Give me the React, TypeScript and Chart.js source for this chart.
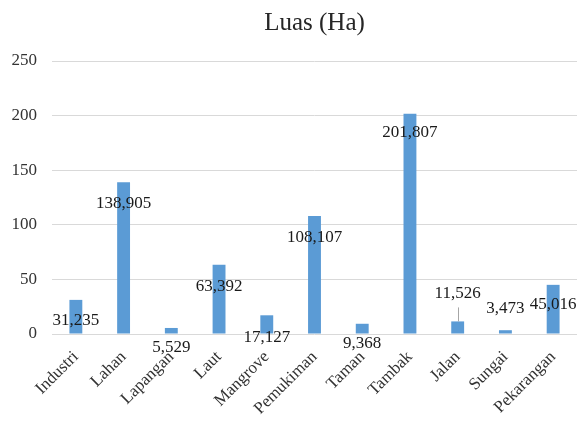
import React, { useEffect, useRef } from "react";
import { Chart, registerables } from "chart.js";

Chart.register(...registerables);

const categories = [
  "Industri", "Lahan", "Lapangan", "Laut", "Mangrove", "Pemukiman",
  "Taman", "Tambak", "Jalan", "Sungai", "Pekarangan",
];
const luasValues = [31.235, 138.905, 5.529, 63.392, 17.127, 108.107, 9.368, 201.807, 11.526, 3.473, 45.016];
const valueLabels = ["31,235", "138,905", "5,529", "63,392", "17,127", "108,107", "9,368", "201,807", "11,526", "3,473", "45,016"];
const chartTitle = "Luas (Ha)";
const yMax = 250;
const yStep = 50;

// label vertical offsets (px) relative to bar top; negative = above
const labelOffsets = [21, 21, 20, 22, 22, 22, 20, 19, -28, -22, 20];
const leaderLineIndex = 8;

const SERIF = "'Liberation Serif', 'Times New Roman', serif";

const labelPlugin = {
  id: "valueLabels",
  afterDatasetsDraw(chart: any) {
    const ctx = chart.ctx;
    const meta = chart.getDatasetMeta(0);
    ctx.save();
    ctx.font = `17px ${SERIF}`;
    ctx.fillStyle = "#1a1a1a";
    ctx.textAlign = "center";
    ctx.textBaseline = "middle";
    meta.data.forEach((bar: any, i: number) => {
      const x = bar.x;
      const y = bar.y + labelOffsets[i];
      ctx.fillText(valueLabels[i], x, y);
      if (i === leaderLineIndex) {
        ctx.strokeStyle = "#a6a6a6";
        ctx.lineWidth = 1;
        ctx.beginPath();
        ctx.moveTo(Math.round(x) + 0.5, y + 14);
        ctx.lineTo(Math.round(x) + 0.5, bar.y);
        ctx.stroke();
      }
    });
    // title
    const area = chart.chartArea;
    ctx.font = `25px ${SERIF}`;
    ctx.fillStyle = "#262626";
    ctx.fillText(chartTitle, (area.left + area.right) / 2, 23);
    ctx.restore();
  },
};

export default function App() {
  const ref = useRef<HTMLCanvasElement | null>(null);
  useEffect(() => {
    document.body.style.margin = "0";
    if (!ref.current) return;
    const chart = new Chart(ref.current, {
      type: "bar",
      data: {
        labels: categories,
        datasets: [
          {
            label: chartTitle,
            data: luasValues,
            backgroundColor: "#5b9bd5",
            barPercentage: 0.27,
            categoryPercentage: 1,
          },
        ],
      },
      options: {
        responsive: false,
        animation: false,
        devicePixelRatio: 1,
        layout: { padding: { top: 61, right: 0, left: 0, bottom: 0 } },
        plugins: {
          legend: { display: false },
          title: { display: false },
          tooltip: { enabled: false },
        },
        scales: {
          x: {
            grid: { display: false },
            border: { display: false },
            ticks: {
              font: { family: SERIF, size: 17 },
              color: "#333333",
              minRotation: 45,
              maxRotation: 45,
              padding: 5,
            },
            afterFit: (s: any) => {
              s.height = 89;
            },
          },
          y: {
            min: 0,
            max: yMax,
            grid: { color: "#d9d9d9", lineWidth: 1, drawTicks: false },
            border: { display: false },
            ticks: {
              stepSize: yStep,
              font: { family: SERIF, size: 17 },
              color: "#333333",
              padding: 15,
            },
            afterFit: (s: any) => {
              s.width = 52;
            },
          },
        },
      },
      plugins: [labelPlugin],
    });
    return () => chart.destroy();
  }, []);
  return (
    <div style={{ width: 577, height: 423 }}>
      <canvas ref={ref} width={577} height={423} />
    </div>
  );
}
